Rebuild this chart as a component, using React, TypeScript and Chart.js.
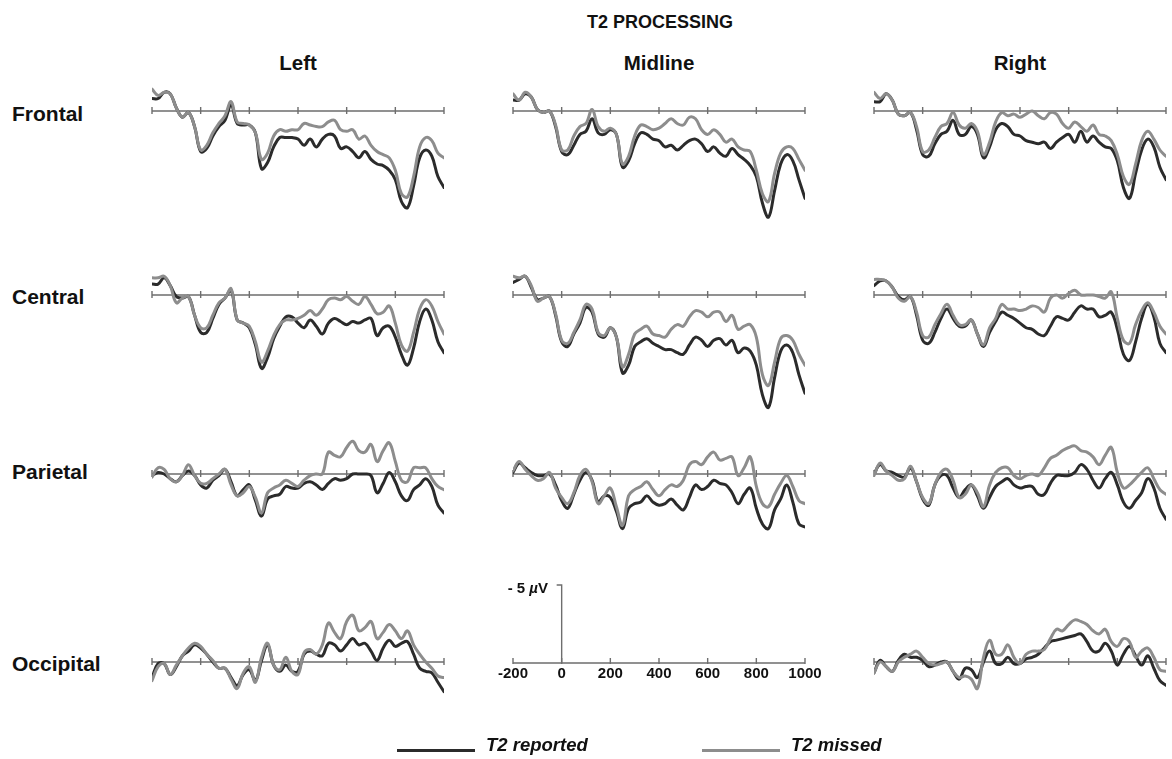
import React, { useEffect, useRef } from 'react';
import { Chart, registerables } from 'chart.js';

Chart.register(...registerables);

// ms relative to T2 onset, and the tick marks on every zero line
const TIMES = [
  -200, -175, -150, -125, -100, -75, -50, -25, 0, 25, 50, 75, 100, 125, 150, 175, 200,
  225, 250, 275, 300, 325, 350, 375, 400, 425, 450, 475, 500, 525, 550, 575, 600, 625,
  650, 675, 700, 725, 750, 775, 800, 825, 850, 875, 900, 925, 950, 975, 1000,
];
const TICK_VALUES = [-200, 0, 200, 400, 600, 800, 1000];
const SCALE_BAR_UV = 5;

// amplitudes in µV (negative plotted up)
const FRONTAL_LEFT_REPORTED = [
  -0.8, -0.8, -1.2, -1.1, -0.2, 0.4, 0.1, 1.0, 2.6, 2.4, 1.6, 1.0, 0.6, -0.4, 0.8, 0.9, 0.9,
  1.4, 3.7, 3.3, 2.3, 1.7, 1.7, 1.7, 1.8, 2.2, 1.8, 2.3, 1.8, 1.5, 1.6, 2.4, 2.3, 2.6,
  3.0, 2.6, 3.1, 3.4, 3.5, 3.8, 4.4, 5.8, 6.2, 4.8, 3.0, 2.5, 2.9, 4.2, 4.9,
];
const FRONTAL_LEFT_MISSED = [
  -1.4, -1.0, -1.2, -1.1, -0.2, 0.4, 0.1, 1.0, 2.5, 2.2, 1.4, 0.8, 0.3, -0.6, 0.7, 0.8, 0.9,
  1.4, 3.1, 2.7, 1.6, 1.2, 1.3, 1.2, 1.2, 0.8, 0.9, 1.0, 1.0, 0.7, 0.6, 1.2, 1.3, 1.2,
  1.8, 1.6, 2.2, 2.6, 2.8, 3.0, 3.8, 5.3, 5.5, 4.2, 2.3, 1.7, 1.9, 2.7, 3.0,
];
const FRONTAL_MIDLINE_REPORTED = [
  -0.7, -0.7, -1.1, -0.9, -0.1, 0.1, 0.0, 1.0, 2.6, 2.8, 2.2, 1.5, 1.3, 0.5, 1.4, 1.5, 1.2,
  1.5, 3.6, 3.2, 2.1, 1.4, 1.5, 1.8, 1.9, 2.3, 2.2, 2.5, 2.2, 1.9, 1.8, 2.1, 2.6, 2.3,
  2.7, 2.9, 2.4, 2.8, 3.1, 3.5, 4.2, 5.9, 6.8, 5.1, 3.4, 2.8, 3.2, 4.4, 5.6,
];
const FRONTAL_MIDLINE_MISSED = [
  -1.1, -0.7, -1.2, -0.9, -0.1, 0.1, 0.0, 0.9, 2.5, 2.5, 1.6, 1.0, 0.8, -0.1, 1.0, 1.3, 1.1,
  1.5, 3.4, 2.9, 1.6, 0.9, 1.0, 1.2, 1.1, 0.8, 0.5, 0.8, 0.9, 0.4, 0.5, 1.2, 1.5, 1.2,
  1.5, 2.0, 1.8, 2.3, 2.5, 2.6, 3.8, 5.3, 5.8, 4.0, 2.7, 2.3, 2.4, 3.1, 3.8,
];
const FRONTAL_RIGHT_REPORTED = [
  -0.6, -0.6, -1.1, -0.7, 0.2, 0.3, 0.1, 1.2, 2.8, 2.9, 2.1, 1.5, 1.3, 0.6, 1.5, 1.5, 1.0,
  1.5, 3.0, 2.3, 1.2, 0.8, 1.0, 1.5, 1.6, 1.9, 2.0, 2.1, 2.0, 2.4, 2.0, 1.7, 1.5, 2.0,
  1.3, 2.0, 1.6, 2.0, 2.3, 2.4, 3.2, 4.9, 5.6, 4.0, 2.5, 1.8, 2.3, 3.6, 4.4,
];
const FRONTAL_RIGHT_MISSED = [
  -1.2, -0.8, -1.1, -0.7, 0.2, 0.3, 0.1, 1.0, 2.6, 2.5, 1.7, 1.0, 0.8, 0.1, 0.9, 1.1, 0.8,
  1.3, 2.8, 2.0, 0.7, 0.1, 0.3, 0.2, 0.4, 0.2, 0.0, 0.3, 0.5, 0.1, 0.2, 0.8, 1.1, 0.7,
  1.0, 1.3, 0.9, 1.5, 1.6, 1.9, 2.8, 4.2, 4.7, 3.4, 1.9, 1.3, 1.8, 2.5, 2.9,
];
const CENTRAL_LEFT_REPORTED = [
  -0.7, -0.7, -1.1, -0.6, 0.1, 0.2, 0.1, 1.3, 2.4, 2.4, 1.5, 0.6, 0.2, -0.3, 1.6, 1.8, 2.1,
  3.2, 4.7, 4.0, 2.8, 2.0, 1.4, 1.4, 1.8, 2.1, 1.6, 2.0, 2.5, 1.8, 1.5, 1.7, 1.9, 1.7,
  1.8, 1.6, 1.5, 2.6, 2.1, 2.0, 2.7, 3.8, 4.5, 3.4, 1.7, 0.9, 1.6, 3.0, 3.7,
];
const CENTRAL_LEFT_MISSED = [
  -1.1, -1.1, -1.2, -0.6, 0.5, 0.2, 0.1, 1.3, 2.1, 2.1, 1.3, 0.5, 0.2, -0.4, 1.6, 1.8, 2.0,
  3.0, 4.3, 3.6, 2.6, 1.9, 1.6, 1.6, 1.5, 1.3, 1.0, 1.3, 0.9, 0.3, 0.2, 0.3, 0.1, 0.4,
  0.6, 0.1, 0.6, 1.2, 1.1, 0.7, 1.8, 3.2, 3.6, 2.4, 0.9, 0.3, 0.7, 1.7, 2.5,
];
const CENTRAL_MIDLINE_REPORTED = [
  -0.8, -1.0, -1.2, -0.5, 0.3, 0.2, 0.1, 1.3, 3.0, 3.3, 2.5, 1.8, 0.8, 1.1, 2.5, 2.7, 2.1,
  2.7, 5.0, 4.5, 3.3, 3.0, 2.8, 3.1, 3.3, 3.5, 3.5, 3.7, 3.8, 3.2, 2.7, 2.9, 3.3, 2.9,
  2.8, 3.2, 2.9, 3.7, 3.4, 3.6, 4.5, 6.4, 7.2, 5.3, 3.6, 3.2, 3.7, 5.1, 6.3,
];
const CENTRAL_MIDLINE_MISSED = [
  -1.2, -1.1, -1.2, -0.6, 0.4, 0.2, 0.1, 1.2, 2.9, 3.1, 2.4, 1.6, 0.6, 0.9, 2.4, 2.6, 2.1,
  2.7, 4.6, 3.8, 2.5, 2.2, 2.0, 2.5, 2.6, 2.7, 2.2, 1.9, 2.0, 1.4, 1.0, 1.1, 1.4, 1.1,
  1.1, 1.7, 1.3, 2.2, 2.0, 1.9, 2.7, 5.1, 5.8, 4.3, 2.8, 2.6, 2.9, 3.8, 4.5,
];
const CENTRAL_RIGHT_REPORTED = [
  -0.6, -0.9, -0.9, -0.5, 0.1, 0.3, 0.1, 1.3, 2.9, 3.1, 2.4, 1.5, 0.9, 1.5, 2.0, 2.0, 1.6,
  2.5, 3.3, 2.4, 1.7, 1.1, 1.3, 1.5, 1.8, 2.1, 2.2, 2.5, 2.6, 2.0, 1.4, 1.5, 1.6, 1.1,
  0.7, 0.9, 0.9, 1.4, 1.3, 1.1, 2.2, 3.8, 4.2, 3.0, 1.5, 0.6, 1.4, 3.1, 3.7,
];
const CENTRAL_RIGHT_MISSED = [
  -1.0, -1.0, -0.9, -0.5, 0.2, 0.4, 0.1, 1.1, 2.6, 2.7, 1.9, 1.2, 0.6, 1.3, 1.9, 1.9, 1.6,
  2.5, 3.2, 2.1, 1.5, 0.6, 0.9, 0.9, 1.0, 0.9, 0.7, 0.8, 1.1, 0.2, 0.0, 0.2, -0.1, -0.3,
  0.0, 0.0, 0.0, 0.1, 0.2, -0.2, 1.5, 2.9, 3.1, 1.9, 1.0, 0.5, 1.1, 2.0, 2.5,
];
const PARIETAL_LEFT_REPORTED = [
  0.1, -0.1, 0.0, 0.3, 0.5, 0.1, -0.2, 0.1, 0.7, 0.9, 0.4, 0.1, -0.3, 0.5, 1.4, 1.0, 0.7,
  1.7, 2.7, 1.6, 1.4, 1.3, 0.8, 0.9, 0.9, 0.6, 0.5, 0.7, 1.0, 0.6, 0.3, 0.4, 0.3, 0.0,
  0.0, 0.0, 0.1, 1.2, 0.6, -0.1, 0.5, 1.4, 1.7, 1.0, 0.7, 0.3, 0.8, 2.0, 2.5,
];
const PARIETAL_LEFT_MISSED = [
  0.2, -0.4, -0.3, 0.3, 0.5, 0.1, -0.6, 0.1, 0.6, 0.6, 0.3, 0.0, -0.3, 0.7, 1.4, 1.2, 0.8,
  1.5, 2.5, 1.2, 0.9, 0.7, 0.4, 0.6, 0.8, 0.4, 0.1, 0.0, 0.0, -1.4, -1.2, -1.1, -1.7, -2.1,
  -1.5, -1.4, -1.9, -0.8, -1.5, -2.0, -0.8, 0.4, 0.5, -0.4, -0.4, -0.4, 0.3, 0.8, 1.0,
];
const PARIETAL_MIDLINE_REPORTED = [
  -0.1, -0.7, -0.4, -0.1, 0.1, 0.1, 0.0, 0.7, 1.7, 2.2, 1.3, 0.4, -0.1, 0.4, 1.8, 1.4, 1.5,
  2.4, 3.5, 2.2, 1.9, 1.8, 1.4, 1.8, 2.0, 1.9, 1.6, 2.0, 2.3, 1.5, 0.7, 1.0, 0.8, 0.4,
  0.6, 0.7, 1.2, 1.9, 1.3, 0.9, 2.2, 3.2, 3.5, 2.3, 1.6, 0.7, 1.8, 3.2, 3.4,
];
const PARIETAL_MIDLINE_MISSED = [
  -0.2, -0.8, -0.3, 0.1, 0.4, 0.3, -0.1, 0.9, 1.5, 1.9, 1.2, 0.1, -0.3, 0.5, 1.9, 1.4, 0.9,
  2.1, 3.3, 1.4, 1.0, 0.8, 0.5, 1.0, 1.4, 1.0, 0.7, 0.8, 0.4, -0.6, -0.8, -0.6, -1.1, -1.4,
  -0.9, -1.0, -1.1, 0.1, -0.4, -1.1, 0.8, 1.9, 2.1, 1.3, 0.6, 0.1, 0.8, 1.7, 1.9,
];
const PARIETAL_RIGHT_REPORTED = [
  0.0, -0.6, -0.2, -0.1, 0.1, 0.2, -0.4, 0.5, 1.6, 2.0, 0.7, 0.1, 0.1, 0.9, 1.5, 1.0, 0.7,
  1.4, 2.2, 1.5, 0.8, 0.5, 0.3, 0.7, 0.9, 0.8, 0.8, 1.3, 1.3, 0.6, 0.1, 0.1, 0.1, -0.1,
  -0.6, -0.3, 0.4, 0.9, 0.3, -0.1, 0.7, 1.8, 2.2, 1.7, 1.2, 0.3, 0.9, 2.2, 2.9,
];
const PARIETAL_RIGHT_MISSED = [
  0.1, -0.7, -0.2, 0.1, 0.4, 0.3, -0.5, 0.5, 1.5, 1.9, 0.7, -0.1, -0.3, 0.4, 1.5, 1.3, 0.7,
  1.2, 2.1, 0.7, -0.1, -0.4, -0.4, 0.1, 0.3, 0.1, 0.0, 0.1, -0.4, -1.0, -1.2, -1.5, -1.7, -1.8,
  -1.5, -1.4, -1.1, -0.6, -1.2, -1.7, -0.1, 0.9, 0.7, 0.3, -0.1, -0.4, 0.3, 1.0, 1.3,
];
const OCCIPITAL_LEFT_REPORTED = [
  1.0, 0.1, 0.1, 0.8, 0.3, -0.4, -0.7, -1.1, -0.9, -0.5, 0.0, 0.4, 0.4, 1.0, 1.5, 0.8, 0.5,
  1.2, -0.1, -1.1, 0.2, 0.6, 0.2, 0.6, 0.6, -0.5, -0.7, -0.5, -0.4, -1.2, -1.1, -0.7, -1.1, -1.5,
  -1.1, -1.2, -0.7, -0.1, -0.9, -1.4, -1.0, -1.2, -1.3, -0.5, 0.4, 0.6, 0.7, 1.3, 1.9,
];
const OCCIPITAL_LEFT_MISSED = [
  1.2, 0.3, 0.1, 0.8, 0.2, -0.4, -0.9, -1.2, -1.0, -0.5, -0.1, 0.4, 0.4, 1.1, 1.7, 0.7, 0.3,
  1.3, -0.3, -1.2, 0.2, 0.5, -0.3, 0.6, 0.8, -0.6, -0.8, -0.5, -1.1, -2.5, -1.9, -1.5, -2.6, -3.0,
  -2.0, -2.2, -2.6, -1.5, -1.9, -2.4, -2.0, -1.5, -2.0, -1.1, -0.5, 0.0, 0.4, 0.9, 1.0,
];
const OCCIPITAL_RIGHT_REPORTED = [
  0.7, -0.1, 0.3, 0.6, -0.1, -0.5, -0.3, -0.3, -0.1, 0.3, 0.2, 0.0, 0.0, 0.6, 1.1, 0.4, 0.5,
  1.0, 0.0, -0.7, 0.1, 0.1, -0.3, 0.1, 0.1, -0.2, -0.3, -0.5, -0.9, -1.3, -1.4, -1.5, -1.6, -1.7,
  -1.8, -1.3, -0.7, -0.7, -1.2, -0.7, 0.2, -0.5, -1.0, -0.4, 0.2, -0.4, 0.4, 1.2, 1.5,
];
const OCCIPITAL_RIGHT_MISSED = [
  0.7, 0.0, 0.3, 0.6, 0.0, -0.3, -0.5, -0.7, -0.3, 0.1, 0.2, 0.1, 0.0, 0.6, 1.0, 0.9, 1.1,
  1.7, -0.3, -1.4, -0.5, -0.5, -1.1, -0.3, 0.1, -0.5, -0.7, -0.7, -0.8, -1.5, -2.1, -2.0, -2.4, -2.7,
  -2.6, -2.4, -2.0, -1.8, -2.1, -1.3, -1.0, -1.5, -1.3, -0.3, -0.7, -0.9, -0.3, 0.5, 0.6,
];

const REPORTED_COLOR = '#2b2b2b';
const MISSED_COLOR = '#8d8d8d';
const AXIS_COLOR = '#6e6e6e';
const TEXT_COLOR = '#111111';
const FONT = '"Liberation Sans", Arial, Helvetica, sans-serif';

const PX_PER_UV = 15.6;
const PANEL_W = 292;
const PAD_X = 8;
const PANEL_H = 210;
const AXIS_OFFSET = 62;

const COLUMNS = [
  { name: 'Left', x: 152 },
  { name: 'Midline', x: 513 },
  { name: 'Right', x: 874 },
];
const ROWS = [
  { name: 'Frontal', axisY: 111, labelY: 113 },
  { name: 'Central', axisY: 295, labelY: 296 },
  { name: 'Parietal', axisY: 474, labelY: 471 },
  { name: 'Occipital', axisY: 662, labelY: 663 },
];

const PANELS = [
  { row: 0, col: 0, reported: FRONTAL_LEFT_REPORTED, missed: FRONTAL_LEFT_MISSED },
  { row: 0, col: 1, reported: FRONTAL_MIDLINE_REPORTED, missed: FRONTAL_MIDLINE_MISSED },
  { row: 0, col: 2, reported: FRONTAL_RIGHT_REPORTED, missed: FRONTAL_RIGHT_MISSED },
  { row: 1, col: 0, reported: CENTRAL_LEFT_REPORTED, missed: CENTRAL_LEFT_MISSED },
  { row: 1, col: 1, reported: CENTRAL_MIDLINE_REPORTED, missed: CENTRAL_MIDLINE_MISSED },
  { row: 1, col: 2, reported: CENTRAL_RIGHT_REPORTED, missed: CENTRAL_RIGHT_MISSED },
  { row: 2, col: 0, reported: PARIETAL_LEFT_REPORTED, missed: PARIETAL_LEFT_MISSED },
  { row: 2, col: 1, reported: PARIETAL_MIDLINE_REPORTED, missed: PARIETAL_MIDLINE_MISSED },
  { row: 2, col: 2, reported: PARIETAL_RIGHT_REPORTED, missed: PARIETAL_RIGHT_MISSED },
  { row: 3, col: 0, reported: OCCIPITAL_LEFT_REPORTED, missed: OCCIPITAL_LEFT_MISSED },
  { row: 3, col: 2, reported: OCCIPITAL_RIGHT_REPORTED, missed: OCCIPITAL_RIGHT_MISSED },
];

// zero line with small tick marks, drawn under the waveforms
const zeroAxis = {
  id: 'zeroAxis',
  defaults: { up: 4, down: 3 },
  beforeDatasetsDraw(chart, _args, opts) {
    const { ctx, scales } = chart;
    const x = scales.x;
    const y0 = scales.y.getPixelForValue(0);
    ctx.save();
    ctx.strokeStyle = AXIS_COLOR;
    ctx.lineWidth = 1.4;
    ctx.beginPath();
    ctx.moveTo(x.getPixelForValue(TICK_VALUES[0]), y0);
    ctx.lineTo(x.getPixelForValue(TICK_VALUES[TICK_VALUES.length - 1]), y0);
    for (const t of TICK_VALUES) {
      const px = x.getPixelForValue(t);
      ctx.moveTo(px, y0 - opts.up);
      ctx.lineTo(px, y0 + opts.down);
    }
    ctx.stroke();
    ctx.restore();
  },
};

const scaleBar = {
  id: 'scaleBar',
  afterDraw(chart) {
    const { ctx, scales: { x, y } } = chart;
    const px = x.getPixelForValue(0);
    const top = y.getPixelForValue(-SCALE_BAR_UV);
    ctx.save();
    ctx.strokeStyle = AXIS_COLOR;
    ctx.lineWidth = 1.4;
    ctx.beginPath();
    ctx.moveTo(px, y.getPixelForValue(0));
    ctx.lineTo(px, top);
    ctx.lineTo(px - 5, top);
    ctx.stroke();
    ctx.restore();
  },
};

function toPoints(values) {
  return TIMES.map((t, i) => ({ x: t, y: values[i] }));
}

function ErpPanel({ left, axisY, reported, missed }) {
  const canvasRef = useRef(null);

  useEffect(() => {
    const chart = new Chart(canvasRef.current, {
      type: 'line',
      data: {
        datasets: [
          {
            label: 'T2 reported',
            data: toPoints(reported),
            borderColor: REPORTED_COLOR,
            borderWidth: 3,
            order: 2,
          },
          {
            label: 'T2 missed',
            data: toPoints(missed),
            borderColor: MISSED_COLOR,
            borderWidth: 3,
            order: 1,
          },
        ],
      },
      options: {
        responsive: false,
        animation: false,
        events: [],
        layout: { padding: { left: PAD_X, right: PAD_X, top: 0, bottom: 0 } },
        elements: {
          point: { radius: 0 },
          line: { tension: 0.4, borderJoinStyle: 'round', borderCapStyle: 'round' },
        },
        scales: {
          x: { type: 'linear', display: false, min: -200, max: 1000 },
          y: {
            type: 'linear',
            display: false,
            reverse: true,
            min: -AXIS_OFFSET / PX_PER_UV,
            max: (PANEL_H - AXIS_OFFSET) / PX_PER_UV,
          },
        },
        plugins: {
          legend: { display: false },
          tooltip: { enabled: false },
          zeroAxis: { up: 4, down: 3 },
        },
      },
      plugins: [zeroAxis],
    });
    return () => chart.destroy();
  }, [reported, missed]);

  return (
    <canvas
      ref={canvasRef}
      width={PANEL_W + 2 * PAD_X}
      height={PANEL_H}
      style={{ position: 'absolute', left: left - PAD_X, top: axisY - AXIS_OFFSET }}
    />
  );
}

const SCALE_PAD_X = 26;
const SCALE_PAD_TOP = 10;
const SCALE_LABEL_H = 26;
const SCALE_PLOT_H = 94;

function ScaleAxes({ left, axisY }) {
  const canvasRef = useRef(null);

  useEffect(() => {
    const chart = new Chart(canvasRef.current, {
      type: 'line',
      data: { datasets: [] },
      options: {
        responsive: false,
        animation: false,
        events: [],
        layout: { padding: { left: SCALE_PAD_X, right: SCALE_PAD_X, top: SCALE_PAD_TOP, bottom: 0 } },
        scales: {
          x: {
            type: 'linear',
            position: 'bottom',
            min: -200,
            max: 1000,
            afterFit: (scale) => { scale.height = SCALE_LABEL_H; },
            grid: { display: false, drawTicks: false },
            border: { display: false },
            ticks: {
              stepSize: 200,
              autoSkip: false,
              maxRotation: 0,
              padding: 2,
              color: TEXT_COLOR,
              font: { family: FONT, size: 15, weight: 'bold' },
              callback: (v) => String(v),
            },
          },
          y: {
            type: 'linear',
            display: false,
            reverse: true,
            min: -SCALE_PLOT_H / PX_PER_UV,
            max: 0,
          },
        },
        plugins: {
          legend: { display: false },
          tooltip: { enabled: false },
          zeroAxis: { up: 5, down: 1 },
        },
      },
      plugins: [zeroAxis, scaleBar],
    });
    return () => chart.destroy();
  }, []);

  return (
    <canvas
      ref={canvasRef}
      width={PANEL_W + 2 * SCALE_PAD_X}
      height={SCALE_PAD_TOP + SCALE_PLOT_H + SCALE_LABEL_H}
      style={{ position: 'absolute', left: left - SCALE_PAD_X, top: axisY - SCALE_PLOT_H - SCALE_PAD_TOP }}
    />
  );
}

function Label({ x, cy, size, align = 'left', width = 200, children, style = {} }) {
  const h = size + 6;
  let left = x;
  if (align === 'center') left = x - width / 2;
  if (align === 'right') left = x - width;
  return (
    <div
      style={{
        position: 'absolute',
        left,
        top: cy - h / 2,
        width,
        height: h,
        lineHeight: `${h}px`,
        fontSize: size,
        fontWeight: 'bold',
        textAlign: align,
        whiteSpace: 'nowrap',
        color: TEXT_COLOR,
        ...style,
      }}
    >
      {children}
    </div>
  );
}

function LegendItem({ x, color, label }) {
  return (
    <>
      <div style={{ position: 'absolute', left: x, top: 749, width: 78, height: 3, background: color }} />
      <Label x={x + 89} cy={745.5} size={18.5} style={{ fontStyle: 'italic' }}>{label}</Label>
    </>
  );
}

export default function App() {
  return (
    <div
      style={{
        position: 'fixed',
        left: 0,
        top: 0,
        width: 1172,
        height: 759,
        background: '#ffffff',
        fontFamily: FONT,
        overflow: 'hidden',
      }}
    >
      <Label x={660} cy={22} size={18} align="center" width={300}>T2 PROCESSING</Label>
      {COLUMNS.map((c) => (
        <Label key={c.name} x={c.x + PANEL_W / 2} cy={63} size={20.5} align="center" width={200}>
          {c.name}
        </Label>
      ))}
      {ROWS.map((r) => (
        <Label key={r.name} x={12} cy={r.labelY} size={21}>{r.name}</Label>
      ))}

      {PANELS.map((p) => (
        <ErpPanel
          key={`${p.row}-${p.col}`}
          left={COLUMNS[p.col].x}
          axisY={ROWS[p.row].axisY}
          reported={p.reported}
          missed={p.missed}
        />
      ))}

      <ScaleAxes left={COLUMNS[1].x} axisY={663} />
      <Label x={548} cy={587} size={15} align="right" width={80}>
        - {SCALE_BAR_UV} <span style={{ fontStyle: 'italic' }}>µ</span>V
      </Label>

      <LegendItem x={397} color={REPORTED_COLOR} label="T2 reported" />
      <LegendItem x={702} color={MISSED_COLOR} label="T2 missed" />
    </div>
  );
}
